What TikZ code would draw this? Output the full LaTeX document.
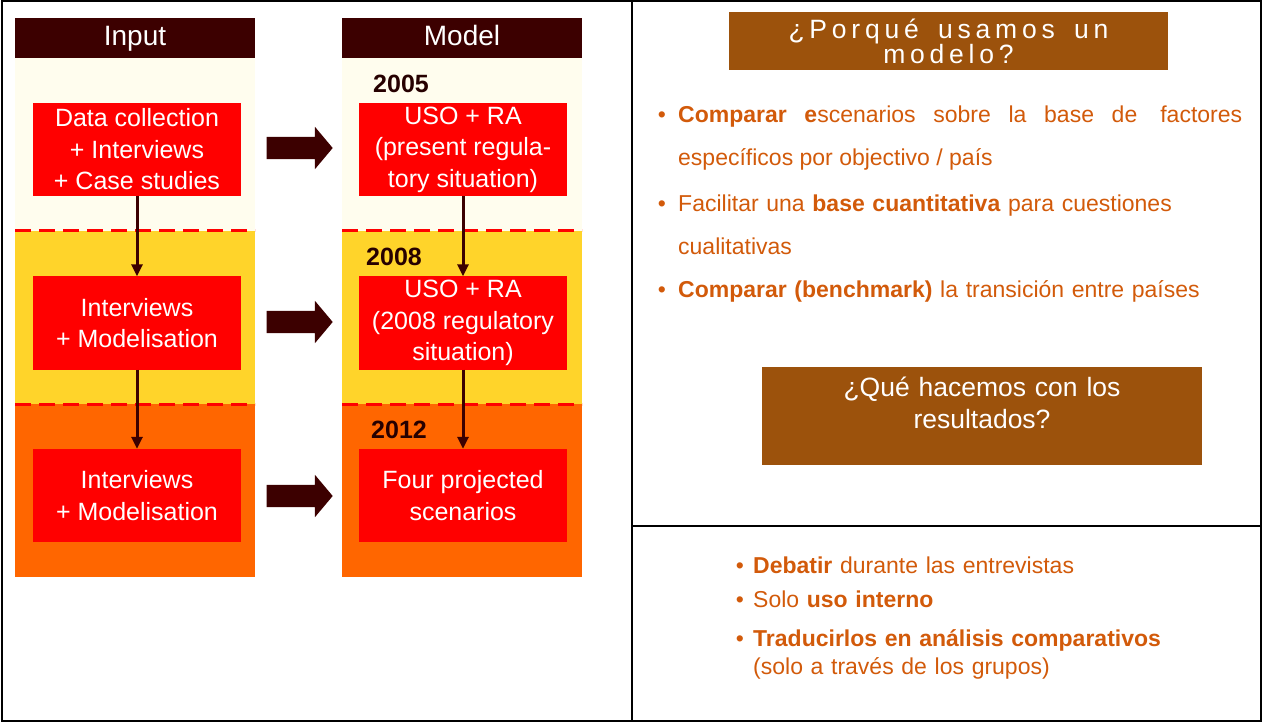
\documentclass[tikz,border=0pt]{standalone}
\usepackage{fontspec}
\setmainfont{Liberation Sans}
\newfontfamily\spacedfont[LetterSpace=18, WordSpace=1.6]{Liberation Sans}
\usetikzlibrary{arrows.meta,shapes.arrows,positioning}

\definecolor{headbrown}{RGB}{60,0,0}
\definecolor{cream}{RGB}{255,253,238}
\definecolor{bandyellow}{RGB}{255,212,42}
\definecolor{bandorange}{RGB}{255,102,0}
\definecolor{boxred}{RGB}{255,0,0}
\definecolor{titlebrown}{RGB}{156,82,12}
\definecolor{textorange}{RGB}{210,90,10}

\begin{document}
\begin{tikzpicture}[x=1pt, y=-1pt,
    colhead/.style={fill=headbrown, text=white, minimum width=240pt, minimum height=40pt, inner sep=0pt, text height=21pt, text depth=5pt, font=\fontsize{28}{30}\selectfont},
    stagebox/.style={fill=boxred, text=white, minimum width=208pt, minimum height=93pt, inner sep=0pt, align=center, font=\fontsize{25}{31.5}\selectfont},
    year/.style={anchor=west, inner sep=0pt, text=black!85!red, font=\bfseries\fontsize{25}{30}\selectfont},
    flow/.style={-{Triangle[length=12pt, width=11pt]}, line width=3pt, headbrown},
    blockarrow/.style={single arrow, fill=headbrown, minimum height=66pt, inner xsep=0pt, inner ysep=11pt, single arrow head extend=10pt, single arrow tip angle=100},
    stagegap/.style={boxred, line width=3pt, dash pattern=on 16pt off 8pt},
    titlebox/.style={fill=titlebrown, text=white, inner sep=0pt, align=center},
    bulletdot/.style={anchor=base, inner sep=0pt, text=textorange, font=\fontsize{23}{28}\selectfont},
    bullettext/.style={anchor=base west, inner sep=0pt, text=textorange, text width=564pt, align=left, font=\fontsize{23}{42.5}\selectfont}
]
    \useasboundingbox (0,0) rectangle (1262,722);

    % Frame
    \draw[line width=2pt] (1.5,1.5) rectangle (1260.5,720.5);
    \draw[line width=2pt] (632,1.5) -- (632,720.5);
    \draw[line width=2pt] (632,526) -- (1260.5,526);

    % Stage bands
    \foreach \x in {15,342} {
        \fill[cream] (\x,58) rectangle ++(240,173);
        \fill[bandyellow] (\x,231) rectangle ++(240,173);
        \fill[bandorange] (\x,404) rectangle ++(240,173);
        \draw[stagegap] (\x,231) -- ++(240,0);
        \draw[stagegap] (\x,404) -- ++(240,0);
    }

    % Column heads
    \node[colhead] (inhead) at (135,38) {Input};
    \node[colhead] (mohead) at (462,38) {Model};

    % Years
    \node[year] (y05) at (373,84) {2005};
    \node[year] (y08) at (366,257) {2008};
    \node[year] (y12) at (371,430) {2012};

    % Stages
    \node[stagebox] (in1) at (137,149.5) {Data collection\\+ Interviews\\+ Case studies};
    \node[stagebox] (in2) at (137,323) {Interviews\\+ Modelisation};
    \node[stagebox] (in3) at (137,495.5) {Interviews\\+ Modelisation};
    \node[stagebox] (mo1) at (463,149.5) {USO + RA\\(present regula-\\tory situation)};
    \node[stagebox] (mo2) at (463,323) {USO + RA\\(2008 regulatory\\situation)};
    \node[stagebox] (mo3) at (463,495.5) {Four projected\\scenarios};

    % Flow down
    \draw[flow] (in1) -- (in2);
    \draw[flow] (in2) -- (in3);
    \draw[flow] (mo1) -- (mo2);
    \draw[flow] (mo2) -- (mo3);

    % Input to model
    \node[blockarrow] (go1) at (295,148) {};
    \node[blockarrow] (go2) at (295,322) {};
    \node[blockarrow] (go3) at (295,496) {};

    % Why a model
    \node[titlebox, minimum width=439pt, minimum height=58pt, font=\spacedfont\fontsize{26.5}{25}\selectfont] (why) at (948.5,41.5) {¿Porqué usamos un\\modelo?};
    \node[bulletdot] (b1) at (662,123) {•};
    \node[bullettext, align=justify] (t1) at (678,123) {\textbf{Comparar e}scenarios sobre la base de\quad factores\linebreak específicos por objectivo / país};
    \node[bulletdot] (b2) at (662,212) {•};
    \node[bullettext] (t2) at (678,212) {Facilitar una \textbf{base cuantitativa} para cuestiones\\cualitativas};
    \node[bulletdot] (b3) at (662,298) {•};
    \node[bullettext] (t3) at (678,298) {\textbf{Comparar (benchmark)} la transición entre países};

    % What with the results
    \node[titlebox, minimum width=440pt, minimum height=98pt] (what) at (982,416) {};
    \node[anchor=base, text width=440pt, align=center, inner sep=0pt, text=white, font=\fontsize{26.5}{32}\selectfont] (whattext) at (982,396) {¿Qué hacemos con los\\resultados?};
    \node[bulletdot] (b4) at (740,573) {•};
    \node[bullettext] (t4) at (753,573) {\textbf{Debatir} durante las entrevistas};
    \node[bulletdot] (b5) at (740,607) {•};
    \node[bullettext] (t5) at (753,607) {Solo \textbf{uso interno}};
    \node[bulletdot] (b6) at (740,646) {•};
    \node[bullettext, font=\fontsize{23}{28}\selectfont] (t6) at (753,646) {\textbf{Traducirlos en análisis comparativos}\\(solo a través de los grupos)};
\end{tikzpicture}
\end{document}
